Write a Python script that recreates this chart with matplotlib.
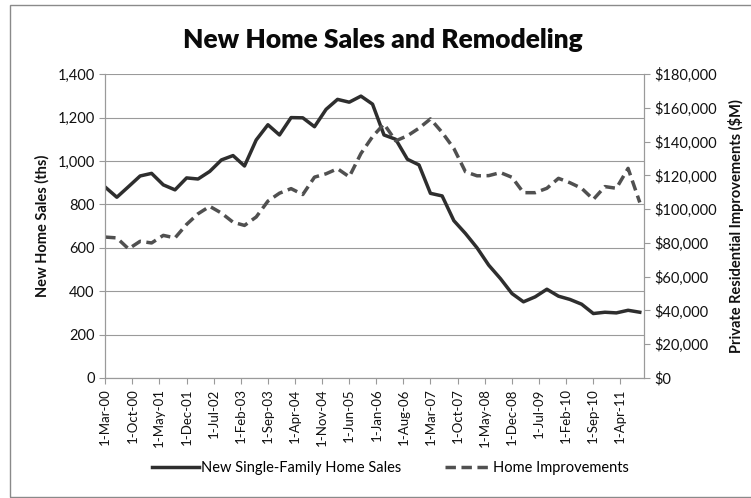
import matplotlib
matplotlib.use("Agg")
import matplotlib.pyplot as plt
from matplotlib.patches import Rectangle
from matplotlib.ticker import FuncFormatter
import pandas as pd

plt.rcParams['font.family'] = ['Lato', 'DejaVu Sans']

# quarterly observations, Mar-2000 .. Sep-2011
dates = pd.date_range('2000-03-01', periods=47, freq='3MS')

# new single-family home sales (thousands)
sales = [880, 833, 882, 931, 943, 890, 867, 922, 917, 952, 1005, 1025,
         977, 1097, 1167, 1120, 1200, 1199, 1158, 1238, 1284, 1271, 1299,
         1262, 1120, 1100, 1008, 982, 851, 839, 725, 666, 600, 520, 458,
         389, 351, 374, 409, 377, 362, 340, 297, 303, 300, 312, 303]

# private residential improvements ($M)
improvements = [83500, 83000, 76500, 81000, 80000, 84500, 83000, 91000,
                97300, 101700, 97700, 92300, 90400, 95400, 104800, 109500,
                112200, 108700, 119000, 121000, 124000, 119200, 133000,
                143000, 150500, 140500, 143500, 148000, 153500, 145500,
                136000, 122200, 119800, 119900, 121700, 118900, 109800,
                109800, 112400, 118300, 115700, 112400, 105800, 113400,
                112400, 124200, 104000]

tick_dates = pd.date_range('2000-03-01', periods=20, freq='7MS')
left_ticks = [0, 200, 400, 600, 800, 1000, 1200, 1400]
right_ticks = [0, 20000, 40000, 60000, 80000, 100000, 120000, 140000, 160000, 180000]

fig = plt.figure(figsize=(7.51, 4.98), dpi=100)
ax = fig.add_axes([0.14, 0.241, 0.717, 0.61])
ax2 = ax.twinx()

# chart-area frame
fig.patches.append(Rectangle((10 / 751, 1 / 498), 760 / 751, 492 / 498,
                             transform=fig.transFigure, fill=False,
                             edgecolor='#8a8a8a', linewidth=1.0))

ax.plot(dates, sales, color='#2e2e2e', linewidth=2.5, solid_joinstyle='round',
        label='New Single-Family Home Sales')
ax2.plot(dates, improvements, color='#505050', linewidth=2.5, linestyle=(0, (3, 1.6)),
         label='Home Improvements')

ax.set_xlim(pd.Timestamp('2000-03-01'), pd.Timestamp('2011-10-01'))
ax.set_ylim(0, 1400)
ax2.set_ylim(0, 180000)

ax.set_yticks(left_ticks)
ax.yaxis.set_major_formatter(FuncFormatter(lambda v, p: f"{int(v):,}"))
ax2.set_yticks(right_ticks)
ax2.yaxis.set_major_formatter(FuncFormatter(lambda v, p: f"${int(v):,}"))

ax.set_xticks(tick_dates)
ax.set_xticklabels([f"{d.day}-{d.strftime('%b-%y')}" for d in tick_dates],
                   rotation=90)

# grid lines
ax.grid(axis='y', color='#9a9a9a', linewidth=0.8)
ax.set_axisbelow(True)

for a in (ax, ax2):
    a.spines['top'].set_visible(False)
    for s in ('left', 'right', 'bottom'):
        a.spines[s].set_color('#9a9a9a')
    a.tick_params(colors='#9a9a9a', labelcolor='#111111', labelsize=10.5, length=4, width=0.8)
ax.tick_params(axis='x', labelsize=9.5)

ax.set_ylabel('New Home Sales (ths)', fontsize=10.5, fontweight='bold',
              labelpad=6, color='#111111')
ax2.set_ylabel('Private Residential Improvements ($M)', fontsize=10.5,
               fontweight='bold', labelpad=8, color='#111111')

fig.text(0.51, 0.92, 'New Home Sales and Remodeling', ha='center', va='center',
         fontsize=19, fontweight='heavy', color='#0a0a0a')

h1, l1 = ax.get_legend_handles_labels()
h2, l2 = ax2.get_legend_handles_labels()
fig.legend(h1 + h2, l1 + l2, loc='center', bbox_to_anchor=(0.52, 0.06), ncol=2,
           frameon=False, fontsize=10.5, handlelength=3.2, handletextpad=0.1,
           columnspacing=3.0)

fig.savefig('out.png', dpi=100)
